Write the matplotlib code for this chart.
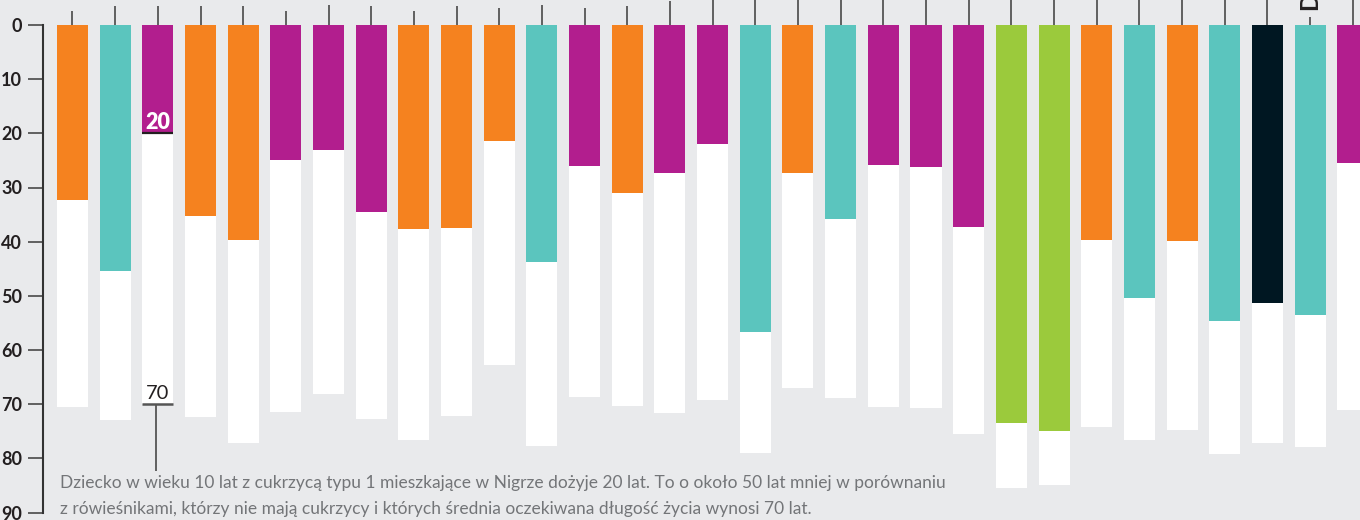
"""
    Life expectancy of a 10 year old child with type 1 diabetes
    compared with peers without diabetes (bar chart, inverted axis)
"""

import matplotlib
matplotlib.use('Agg')
import matplotlib.pyplot as plt


# ------------
#    DATA
# ------------
# colour group of every bar: o - orange, t - teal, m - magenta, g - green, k - black
groups = ['o', 't', 'm', 'o', 'o', 'm', 'm', 'm', 'o', 'o',
          'o', 't', 'm', 'o', 'm', 'm', 't', 'o', 't', 'm',
          'm', 'm', 'g', 'g', 'o', 't', 'o', 't', 'k', 't', 'm']

# age reached with type 1 diabetes
with_diabetes = [32.3, 45.4, 20.0, 35.3, 39.7, 25.0, 23.0, 34.5, 37.7, 37.4,
                 21.5, 43.8, 26.1, 31.0, 27.4, 21.9, 56.7, 27.4, 35.8, 25.9,
                 26.3, 37.3, 73.4, 74.9, 39.7, 50.4, 39.9, 54.6, 51.3, 53.5, 25.4]

# life expectancy of peers without diabetes
without_diabetes = [70.5, 73.0, 70.0, 72.3, 77.1, 71.4, 68.1, 72.7, 76.7, 72.1,
                    62.7, 77.8, 68.6, 70.3, 71.6, 69.2, 79.1, 67.0, 68.8, 70.5,
                    70.7, 75.5, 85.5, 84.9, 74.2, 76.6, 74.8, 79.2, 77.2, 77.9, 71.1]

# top of the small stub lines above every bar (cut off from the chart above)
stub_tops = [-2.6, -3.6, -3.6, -3.6, -3.6, -2.6, -3.7, -3.6, -2.6, -3.6,
             -3.1, -3.7, -3.1, -3.6, -4.4, -4.7, -4.7, -4.7, -4.7, -4.7,
             -4.7, -4.7, -4.7, -4.7, -4.7, -4.7, -4.7, -4.7, -4.7, -1.5, -4.7]

y_ticks = [0, 10, 20, 30, 40, 50, 60, 70, 80, 90]

note_lines = ['Dziecko w wieku 10 lat z cukrzycą typu 1 mieszkające w Nigrze dożyje 20 lat. '
              'To o około 50 lat mniej w porównaniu',
              'z rówieśnikami, którzy nie mają cukrzycy i których średnia oczekiwana '
              'długość życia wynosi 70 lat.']

COLORS = {'o': '#F5821F', 't': '#5BC5BE', 'm': '#B21E8E', 'g': '#9BCA3C', 'k': '#001722'}
BACKGROUND = '#E9EAEC'
FONT = ['Lato', 'DejaVu Sans']


def draw_bars(ax):
    """ white bar for healthy peers, coloured bar on top for diabetes """
    x_pos = list(range(len(groups)))
    ax.bar(x_pos, without_diabetes, width=0.727, color='white', zorder=2)
    ax.bar(x_pos, with_diabetes, width=0.727,
           color=[COLORS[g] for g in groups], zorder=3)

    # stubs above the plot
    ax.vlines(x_pos, stub_tops, 0, colors='#555555', linewidth=1.3, clip_on=False, zorder=1)


def draw_annotation(ax):
    """ Niger example: labels 20 and 70 with the explanation text """
    i = 2
    half = 0.727 / 2
    ax.hlines(with_diabetes[i], i - half, i + half, colors='#231F20', linewidth=1.6, zorder=4)
    ax.text(i, with_diabetes[i] - 0.8, '%d' % with_diabetes[i], color='white',
            fontsize=15.5, fontweight='heavy', ha='center', va='baseline', family=FONT, zorder=5)

    ax.hlines(without_diabetes[i], i - half, i + half, colors='#555555', linewidth=1.8, zorder=4)
    ax.text(i, without_diabetes[i] - 0.9, '%d' % without_diabetes[i], color='#231F20',
            fontsize=14.5, ha='center', va='baseline', family=FONT, zorder=5)
    ax.vlines(i - 0.04, without_diabetes[i], 82.3, colors='#555555', linewidth=1.3, zorder=4)

    ax.text(-0.29, 85.5, note_lines[0], color='#737578', fontsize=12.5,
            ha='left', va='baseline', family=FONT, zorder=5)
    ax.text(-0.29, 90.3, note_lines[1], color='#737578', fontsize=12.5,
            ha='left', va='baseline', family=FONT, zorder=5, clip_on=False)

    # first letter of a rotated country label from the chart above
    ax.text(29, -2.8, 'D', rotation=90, color='#231F20', fontsize=17, fontweight='bold',
            ha='center', va='bottom', family=FONT, clip_on=False)


def main():
    """ main function in program """
    fig = plt.figure(figsize=(13.6, 5.2), dpi=100, facecolor=BACKGROUND)
    ax = fig.add_axes([43 / 1360, 7.5 / 520, 1317 / 1360, 487.5 / 520], facecolor=BACKGROUND)

    draw_bars(ax)
    draw_annotation(ax)

    ax.set_xlim(-0.691, 30.17)
    ax.set_ylim(90, 0)
    ax.set_yticks(y_ticks)
    ax.set_yticklabels([str(t) for t in y_ticks], family=FONT, fontsize=13,
                       fontweight='bold', color='#231F20')
    ax.tick_params(axis='y', length=11, width=1.3, color='#555555', pad=4)
    ax.set_xticks([])

    for side in ['top', 'right', 'bottom']:
        ax.spines[side].set_visible(False)
    ax.spines['left'].set_color('#333333')
    ax.spines['left'].set_linewidth(1.5)

    fig.savefig('out.png', dpi=100, facecolor=BACKGROUND)


if __name__ == '__main__':
    main()
